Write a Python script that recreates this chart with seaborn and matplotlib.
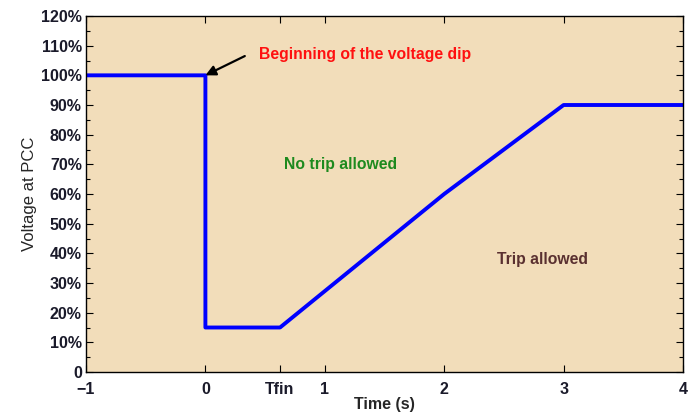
import numpy as np
import pandas as pd
import matplotlib
matplotlib.use('Agg')
import matplotlib.pyplot as plt
import seaborn as sns

# ==========================================
# DATA
# ==========================================
time_s = [-1, 0, 0, 0.625, 2, 3, 4]
voltage_pct = [100, 100, 15, 15, 60, 90, 90]

x_ticks = [-1, 0, 0.625, 1, 2, 3, 4]
x_labels = ['\u22121', '0', 'Tfin', '1', '2', '3', '4']
y_ticks = list(range(0, 121, 10))
y_labels = ['0'] + [f'{v}%' for v in y_ticks[1:]]

df = pd.DataFrame({'Time (s)': time_s, 'Voltage at PCC': voltage_pct})

# ==========================================
# PLOT
# ==========================================
sns.set_style('ticks')
plt.rcParams['font.family'] = ['Liberation Sans', 'DejaVu Sans']

fig, ax = plt.subplots(figsize=(6.93, 4.12), dpi=100)
fig.subplots_adjust(left=86/693, right=683/693, top=1-16/412, bottom=1-372/412)
ax.set_facecolor('#F2DDBA')

# estimator=None keeps the vertical drop at t=0 (no averaging of duplicate x)
sns.lineplot(data=df, x='Time (s)', y='Voltage at PCC', sort=False,
             estimator=None, color='#0000FF', linewidth=2.8, ax=ax)

ax.set_xlim(-1, 4)
ax.set_ylim(0, 120)
ax.set_xticks(x_ticks)
ax.set_xticklabels(x_labels)
ax.set_yticks(y_ticks)
ax.set_yticklabels(y_labels)
ax.set_yticks(np.arange(5, 120, 10), minor=True)
ax.tick_params(axis='both', which='both', direction='in', top=True, right=True,
               labelsize=11.5, colors='black', width=0.8)
ax.tick_params(axis='both', which='major', length=5)
ax.tick_params(axis='y', which='major', pad=3)
ax.tick_params(axis='x', which='major', pad=7)
ax.tick_params(axis='y', which='minor', length=3)
for lbl in ax.get_xticklabels() + ax.get_yticklabels():
    lbl.set_fontweight('bold')
    lbl.set_color('#1a1a2a')
for sp in ax.spines.values():
    sp.set_linewidth(1.0)
    sp.set_color('black')

ax.set_xlabel('Time (s)', fontsize=11.5, fontweight='bold', labelpad=0)
ax.set_ylabel('Voltage at PCC', fontsize=12, fontweight='normal', labelpad=3)

ax.annotate('', xy=(0.0, 100), xytext=(0.33, 106.5),
            arrowprops=dict(arrowstyle='-|>', color='black', lw=1.6,
                            mutation_scale=15, shrinkA=0, shrinkB=0))
ax.text(0.45, 107, 'Beginning of the voltage dip', color='#FF1010',
        fontsize=11.3, fontweight='bold', ha='left', va='center')
ax.text(1.13, 70, 'No trip allowed', color='#1E8A1E',
        fontsize=11.3, fontweight='bold', ha='center', va='center')
ax.text(2.82, 38, 'Trip allowed', color='#5A3030',
        fontsize=11.3, fontweight='bold', ha='center', va='center')

plt.savefig('out.png', dpi=100)
plt.close()
